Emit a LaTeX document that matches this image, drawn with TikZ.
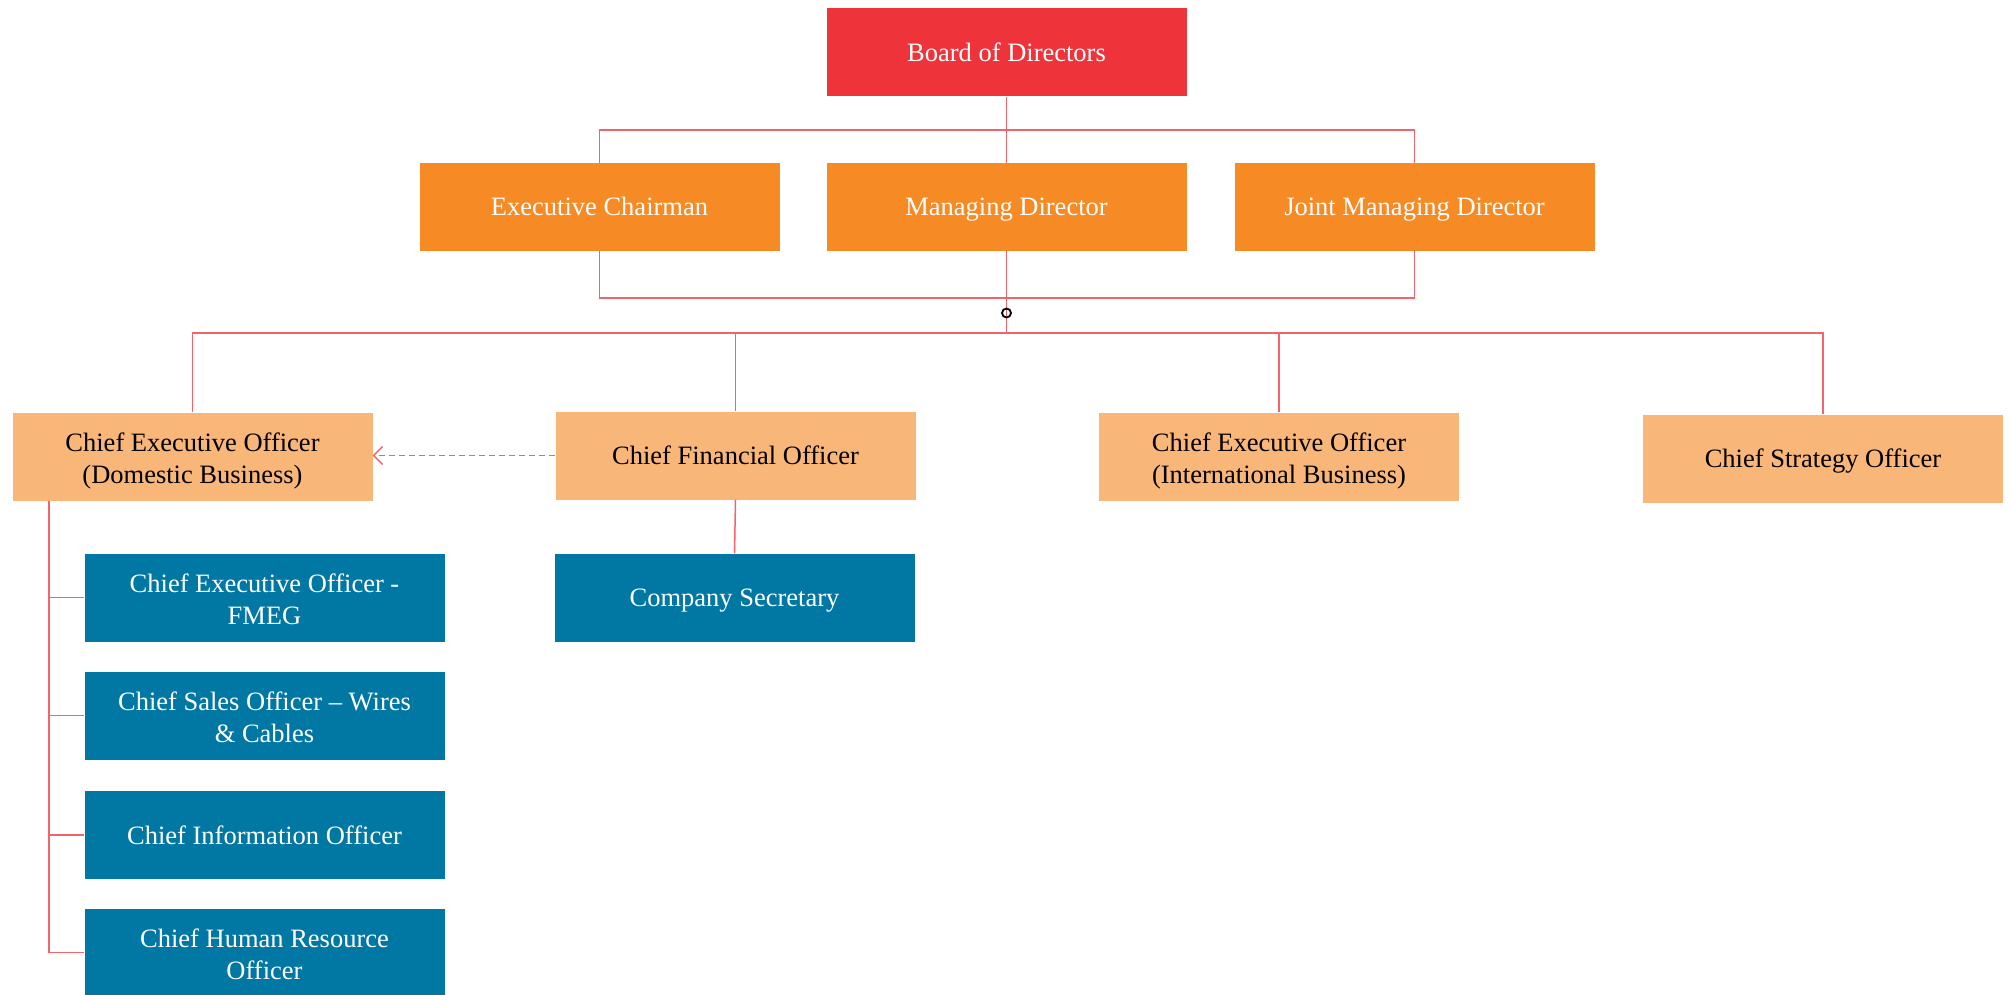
\documentclass[tikz,border=0pt]{standalone}
\usepackage{fontspec}
\setmainfont{Liberation Serif}
\usetikzlibrary{arrows.meta,calc}
\definecolor{bodred}{HTML}{EF333B}
\definecolor{darkorg}{HTML}{F68A24}
\definecolor{lightorg}{HTML}{F8B679}
\definecolor{bluebox}{HTML}{0177A3}
\definecolor{linkred}{HTML}{F0646C}
\newcommand\mystrut{\rule[-7pt]{0pt}{32pt}}
\begin{document}
\begin{tikzpicture}[x=1pt,y=-1pt,
  box/.style={rectangle, minimum width=360pt, minimum height=88pt, inner sep=0pt, align=center,
    font=\fontsize{26.5}{32}\selectfont,
    execute at begin node=\mystrut, execute at end node=\mystrut},
  twoline/.style={text height=54pt, text depth=0pt},
  redbox/.style={box, fill=bodred, text=white},
  orgbox/.style={box, fill=darkorg, text=white},
  ltbox/.style={box, fill=lightorg, text=black},
  bluebx/.style={box, fill=bluebox, text=white},
  link/.style={draw=linkred, line width=1.5pt},
  dlink/.style={draw=linkred, line width=1.3pt, dashed, dash pattern=on 6pt off 4pt,
    -{Straight Barb[length=9pt,width=18pt,line width=1.3pt]}}
]
\useasboundingbox (0,0) rectangle (2011,995);
\node[redbox] (board) at (1006.5,52.5) {Board of Directors};
\node[orgbox] (ec) at (599.5,207) {Executive Chairman};
\node[orgbox] (md) at (1006.5,207) {Managing Director};
\node[orgbox] (jmd) at (1414.5,207) {Joint Managing Director};
\node[ltbox,twoline] (ceod) at (192.5,456.5) {Chief Executive Officer\\(Domestic Business)};
\node[ltbox] (cfo) at (735.5,455.5) {Chief Financial Officer};
\node[ltbox,twoline] (ceoi) at (1279,456.5) {Chief Executive Officer\\(International Business)};
\node[ltbox] (cso) at (1823,458.5) {Chief Strategy Officer};
\node[bluebx] (cs) at (734.5,597.5) {Company Secretary};
\node[bluebx,twoline] (fmeg) at (264.5,597.5) {Chief Executive Officer -\\FMEG};
\node[bluebx,twoline] (wc) at (264.5,715.5) {Chief Sales Officer -- Wires\\\& Cables};
\node[bluebx] (cio) at (264.5,835) {Chief Information Officer};
\node[bluebx,twoline] (chro) at (264.5,952.5) {Chief Human Resource\\Officer};
\coordinate (topbus) at (1006.5,130);
\coordinate (brk) at (1006.5,298);
\coordinate (bus) at (1006.5,333);
\coordinate (sp) at (49,500.5);
\coordinate (spend) at (49,952.5);
% top level
\draw[link] (board.south) -- (md.north);
\draw[link] (ec.north) |- (topbus) -| (jmd.north);
\draw[link] (ec.south) |- (brk) -| (jmd.south);
\draw[link] (md.south) -- (bus);
\node[circle, draw=black, line width=1.8pt, minimum size=9pt, inner sep=0pt] (hub) at (1006.5,313) {};
% second bus
\draw[link] (ceod.north) |- (bus) -| (cso.north);
\draw[link] (bus) -| (cfo.north);
\draw[link] (bus) -| (ceoi.north);
% cfo to cs
\draw[link] (cfo.south) -- (cs.north);
% dashed
\draw[dlink] (cfo.west) -- (cfo.west -| ceod.east);
% spine
\draw[link] (sp) -- (spend);
\draw[link] (sp |- fmeg.west) -- (fmeg.west);
\draw[link] (sp |- wc.west) -- (wc.west);
\draw[link] (sp |- cio.west) -- (cio.west);
\draw[link] (spend) -- (chro.west);
\end{tikzpicture}
\end{document}
